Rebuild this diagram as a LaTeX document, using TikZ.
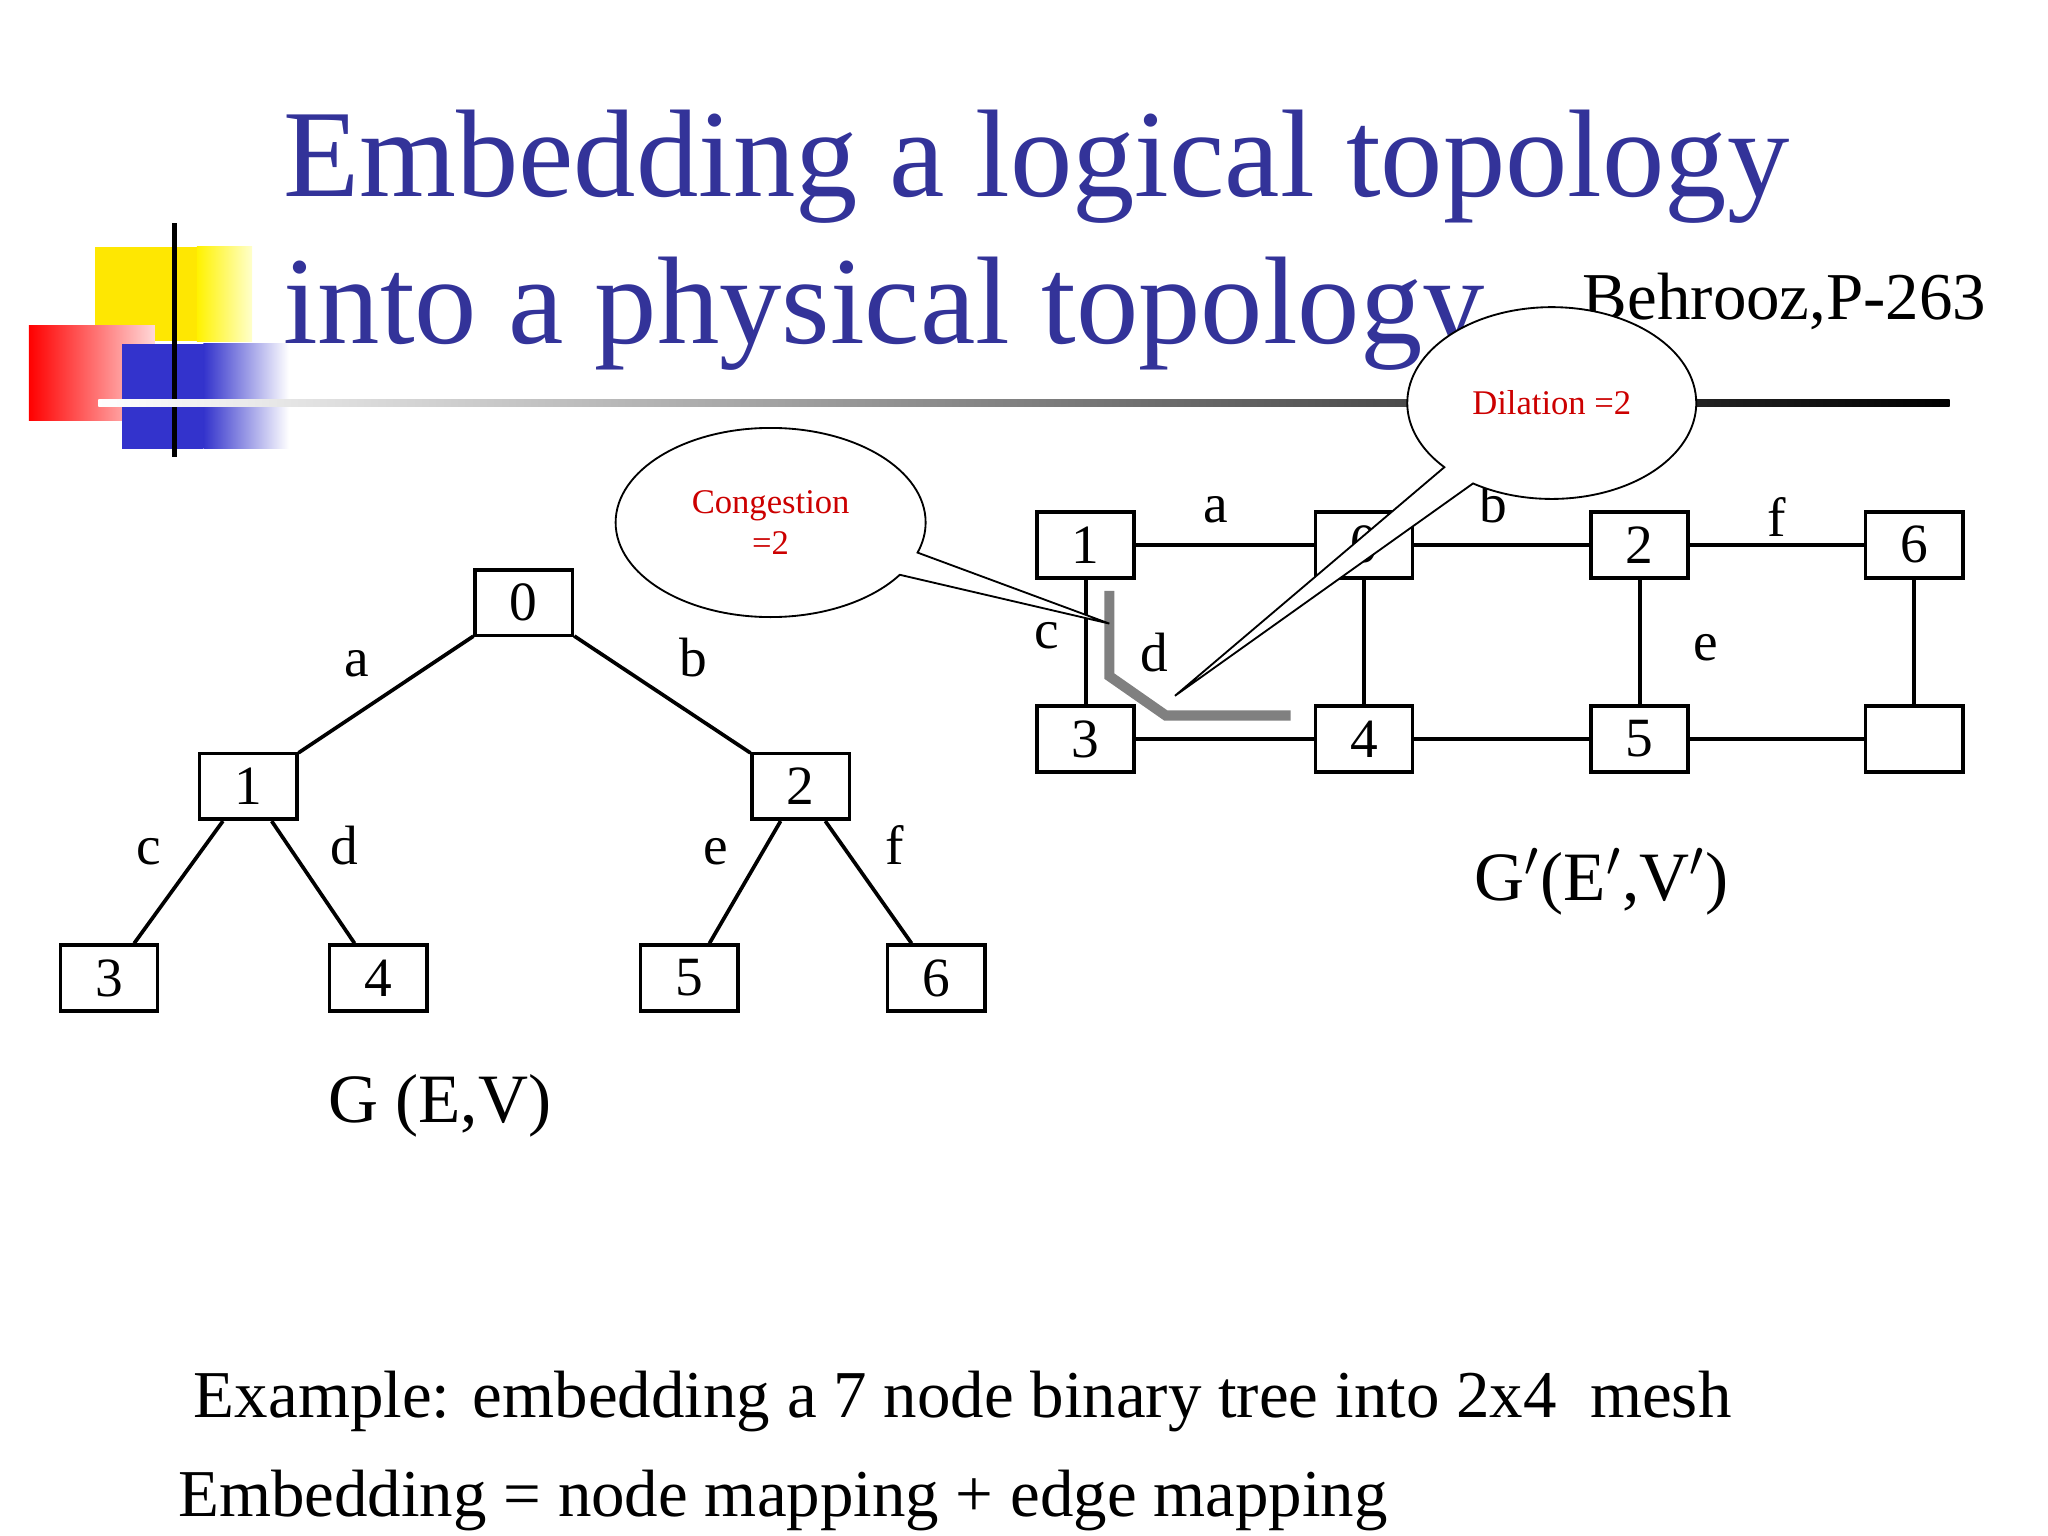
\documentclass[tikz,border=0pt]{standalone}
\usepackage{fontspec}
\setmainfont{Liberation Serif}
\usetikzlibrary{shapes.callouts}
\definecolor{titleblue}{RGB}{51,51,153}
\definecolor{logoblue}{RGB}{51,51,204}
\begin{document}
\begin{tikzpicture}[x=0.01cm,y=-0.01cm,
  box/.style={draw,thick,minimum width=0.74cm,minimum height=0.5cm,inner sep=0pt,font=\fontsize{12}{12}\selectfont},
  lbl/.style={font=\fontsize{12}{12}\selectfont},
  edge/.style={thick},
  bubble/.style={ellipse callout,draw,fill=white,text=red!80!black,align=center,font=\fontsize{7.5}{9}\selectfont}]
\useasboundingbox (0,0) rectangle (1560,1170);
% logo
\fill[yellow!90!orange] (72,188) rectangle (192,260);
\shade[left color=yellow!90!orange,right color=yellow!20] (150,188) rectangle (192,260);
\shade[left color=red,right color=red!15] (22,248) rectangle (118,320);
\fill[logoblue] (93,262) rectangle (155,342);
\shade[left color=logoblue,right color=white] (155,262) rectangle (220,342);
\draw[line width=1.2pt] (133,170) -- (133,348);
\shade[left color=white,right color=black] (75,304) rectangle (1485,310);
% title
\node[anchor=base west,text=titleblue,font=\fontsize{27}{28}\selectfont,inner sep=0pt] (t1) at (215,150) {Embedding a logical topology};
\node[anchor=base west,text=titleblue,font=\fontsize{27}{28}\selectfont,inner sep=0pt] (t2) at (215,262) {into a physical topology};
\node[anchor=base west,font=\fontsize{14.5}{15}\selectfont,inner sep=0pt] (ref) at (1205,243) {Behrooz,P-263};
% tree
\node[box] (n0) at (399,459) {0};
\node[box] (n1) at (189,599) {1};
\node[box] (n2) at (610,599) {2};
\node[box] (n3) at (83,745) {3};
\node[box] (n4) at (288,745) {4};
\node[box] (n5) at (525,745) {5};
\node[box] (n6) at (713,745) {6};
\draw[edge] (n0) -- (n1) node[lbl,pos=.5,above left] {a};
\draw[edge] (n0) -- (n2) node[lbl,pos=.5,above right] {b};
\draw[edge] (n1) -- (n3) node[lbl,pos=.5,above left] {c};
\draw[edge] (n1) -- (n4) node[lbl,pos=.5,above right] {d};
\draw[edge] (n2) -- (n5) node[lbl,pos=.5,above left] {e};
\draw[edge] (n2) -- (n6) node[lbl,pos=.5,above right] {f};
\node[font=\fontsize{15}{15}\selectfont] (g) at (335,842) {G (E,V)};
% mesh
\node[box] (m1) at (827,415) {1};
\node[box] (m0) at (1039,415) {0};
\node[box] (m2) at (1249,415) {2};
\node[box] (m6) at (1458,415) {6};
\node[box] (m3) at (827,563) {3};
\node[box] (m4) at (1039,563) {4};
\node[box] (m5) at (1249,563) {5};
\node[box] (m7) at (1458,563) {};
\draw[edge] (m1) -- (m0) node[lbl,pos=.45,above=1pt] {a};
\draw[edge] (m0) -- (m2) node[lbl,pos=.45,above=1pt] {b};
\draw[edge] (m2) -- (m6) node[lbl,pos=.5,above=-2pt] {f};
\draw[edge] (m3) -- (m4);
\draw[edge] (m4) -- (m5);
\draw[edge] (m5) -- (m7);
\draw[edge] (m1) -- (m3) node[lbl,pos=.45,left=2pt] {c};
\draw[edge] (m0) -- (m4);
\draw[edge] (m2) -- (m5) node[lbl,pos=.55,right=8pt] {e};
\draw[edge] (m6) -- (m7);
\coordinate (p1) at (845,450);
\coordinate (p2) at (845,515);
\coordinate (p3) at (888,545);
\coordinate (p4) at (983,545);
\draw[gray,line width=2.2pt] (p1) -- (p2) -- (p3) -- (p4);
\node[lbl] (dl) at (879,497) {d};
\node[font=\fontsize{15}{15}\selectfont] (gp) at (1220,672) {G$'$(E$'$,V$'$)};
% callouts
\node[bubble,minimum width=2.36cm,minimum height=1.44cm,callout absolute pointer={(845,475)}] (cong) at (587,398) {Congestion\\=2};
\node[bubble,minimum width=2.2cm,minimum height=1.46cm,callout absolute pointer={(895,530)}] (dil) at (1182,307) {Dilation =2};
% bottom text
\node[anchor=base west,font=\fontsize{14.5}{15}\selectfont,inner sep=0pt] (ex) at (147,1080) {Example: embedding a 7 node binary tree into 2x4\ \ mesh};
\node[anchor=base west,font=\fontsize{14.5}{15}\selectfont,inner sep=0pt] (em) at (135,1155) {Embedding = node mapping + edge mapping};
\end{tikzpicture}
\end{document}
